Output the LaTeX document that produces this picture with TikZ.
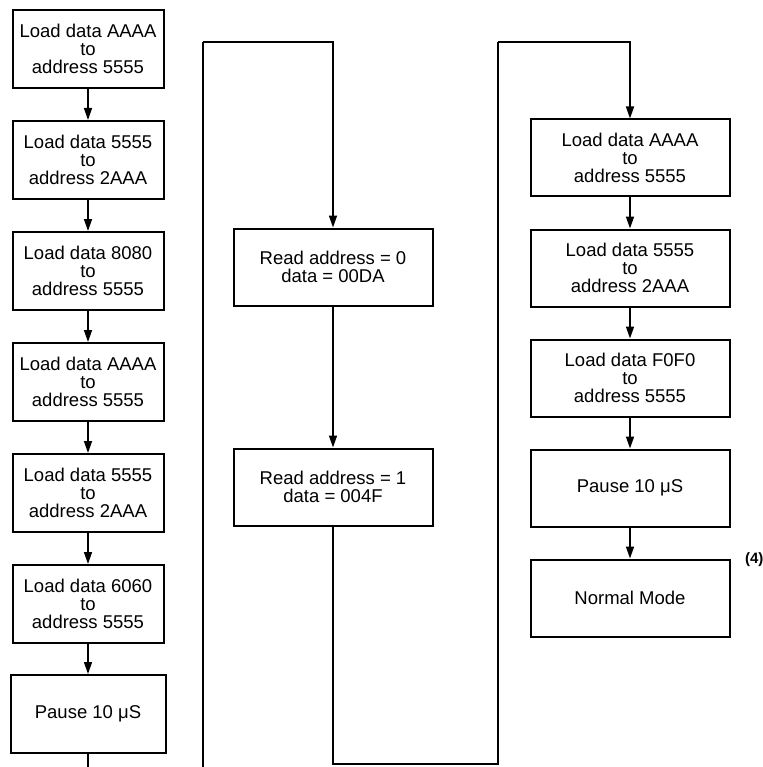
\documentclass[tikz,border=0pt]{standalone}
\usepackage{fontspec}
\setmainfont{Liberation Sans}
\usetikzlibrary{positioning,arrows.meta}

\begin{document}
\begin{tikzpicture}[
      x=1pt, y=-1pt,
      every node/.style={font=\fontsize{18.5}{18}\selectfont, align=center},
      box/.style      ={draw, line width=2pt, minimum width=151pt, minimum height=78pt, inner sep=2pt},
      widebox/.style  ={box, minimum width=199pt, minimum height=77pt},
      arr/.style      ={-{Triangle[width=8pt,length=12pt]}, line width=1.5pt},
      wire/.style     ={line width=1.7pt},
      node distance=31pt,
  ]
  \useasboundingbox (0,0) rectangle (762,767);
  \clip (0,0) rectangle (762,767);

  % ─ First sequence (column 1) ─
  \node[box]  at (88,49)          (l1) {Load data AAAA\\to\\address 5555};
  \node[box, below=of l1]         (l2) {Load data 5555\\to\\address 2AAA};
  \node[box, below=of l2]         (l3) {Load data 8080\\to\\address 5555};
  \node[box, below=of l3]         (l4) {Load data AAAA\\to\\address 5555};
  \node[box, below=of l4]         (l5) {Load data 5555\\to\\address 2AAA};
  \node[box, below=of l5]         (l6) {Load data 6060\\to\\address 5555};
  \node[box, below=30pt of l6, minimum width=155pt] (l7) {Pause 10 μS};

  % ─ Read ID (column 2) ─
  \node[widebox] at (333,267)     (rd0) {Read address = 0\\data = 00DA};
  \node[widebox] at (333,487)     (rd1) {Read address = 1\\data = 004F};

  % ─ Exit sequence (column 3) ─
  \node[widebox] at (630,158)     (r1) {Load data AAAA\\to\\address 5555};
  \node[widebox, below=of r1]     (r2) {Load data 5555\\to\\address 2AAA};
  \node[widebox, below=of r2]     (r3) {Load data F0F0\\to\\address 5555};
  \node[widebox, below=of r3]     (r4) {Pause 10 μS};
  \node[widebox, below=of r4]     (r5) {Normal Mode};
  \node[anchor=north west, font=\fontsize{15}{17}\bfseries]
        at ([xshift=11pt,yshift=9pt]r5.north east) (note) {(4)};

  % ─ Corner points of the loops ─
  \coordinate (botL) at (203,800);
  \coordinate (topL) at (203,42);
  \coordinate (botR) at (498,764);
  \coordinate (topR) at (498,42);

  % ─ Arrows: column 1 ─
  \draw[arr] (l1) -- (l2);
  \draw[arr] (l2) -- (l3);
  \draw[arr] (l3) -- (l4);
  \draw[arr] (l4) -- (l5);
  \draw[arr] (l5) -- (l6);
  \draw[arr] (l6) -- (l7);

  % ─ Column 1 → column 2 ─
  \draw[wire] (l7.south) |- (botL) -- (topL);
  \draw[arr]  (topL) -| (rd0.north);
  \draw[arr]  (rd0) -- (rd1);

  % ─ Column 2 → column 3 ─
  \draw[wire] (rd1.south) |- (botR) -- (topR);
  \draw[arr]  (topR) -| (r1.north);

  % ─ Arrows: column 3 ─
  \draw[arr] (r1) -- (r2);
  \draw[arr] (r2) -- (r3);
  \draw[arr] (r3) -- (r4);
  \draw[arr] (r4) -- (r5);
\end{tikzpicture}
\end{document}
